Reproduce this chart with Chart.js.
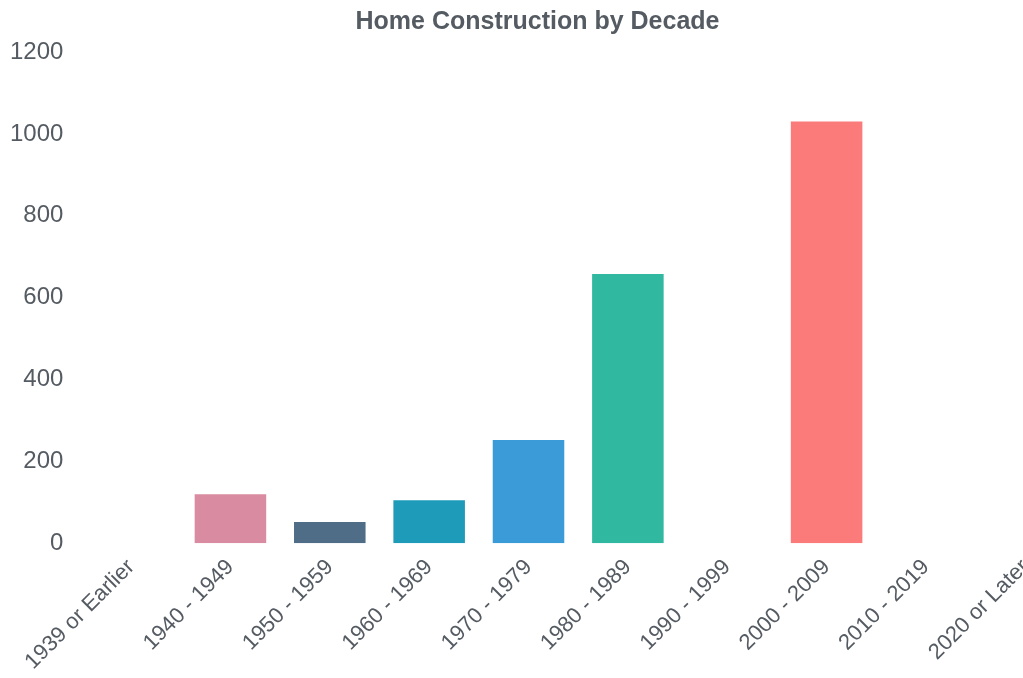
<!DOCTYPE html>
<html>
<head>
<meta charset="utf-8">
<script src="https://cdn.jsdelivr.net/npm/chart.js@4"></script>
<style>
  html, body { margin: 0; padding: 0; background: #fff; overflow: hidden; }
  .wrap { position: relative; width: 1075px; height: 678px; }
</style>
</head>
<body>
<div class="wrap"><canvas id="decadeChart"></canvas></div>
<script>
// === DATA ===
const decades = ["1939 or Earlier", "1940 - 1949", "1950 - 1959", "1960 - 1969", "1970 - 1979",
  "1980 - 1989", "1990 - 1999", "2000 - 2009", "2010 - 2019", "2020 or Later"];
const homesBuilt = [0, 120, 52, 105, 252, 658, 0, 1030, 0, 0];
const barColors = ["#9aa5b1", "#d98ba1", "#4f6d86", "#1e9bb8", "#3b9bd8",
  "#31b8a0", "#8c7fc4", "#fb7b7b", "#f2b45a", "#6fbf6f"];
const yTicks = [0, 200, 400, 600, 800, 1000, 1200];

const textColor = "#555b62";
const fontFamily = "'Liberation Sans', Arial, sans-serif";

const ctx = document.getElementById("decadeChart").getContext("2d");
new Chart(ctx, {
  type: "bar",
  data: {
    labels: decades,
    datasets: [{
      label: "Homes",
      data: homesBuilt,
      backgroundColor: barColors,
      borderWidth: 0
    }]
  },
  options: {
    responsive: true,
    maintainAspectRatio: false,
    animation: false,
    layout: { padding: { left: 0, right: 0, top: 0, bottom: 0 } },
    plugins: {
      legend: { display: false },
      tooltip: { enabled: false },
      title: {
        display: true,
        text: "Home Construction by Decade",
        color: textColor,
        font: { family: fontFamily, size: 25, weight: "bold" },
        padding: { top: 7, bottom: 15 }
      }
    },
    scales: {
      x: {
        grid: { display: false },
        border: { display: false },
        ticks: {
          color: textColor,
          font: { family: fontFamily, size: 22 },
          minRotation: 45,
          maxRotation: 45,
          autoSkip: false
        }
      },
      y: {
        min: yTicks[0],
        max: yTicks[yTicks.length - 1],
        grid: { display: false },
        border: { display: false },
        afterBuildTicks: (axis) => { axis.ticks = yTicks.map(v => ({ value: v })); },
        ticks: {
          color: textColor,
          padding: 10,
          font: { family: fontFamily, size: 24 },
          callback: (v) => String(v)
        }
      }
    }
  }
});
</script>
</body>
</html>
